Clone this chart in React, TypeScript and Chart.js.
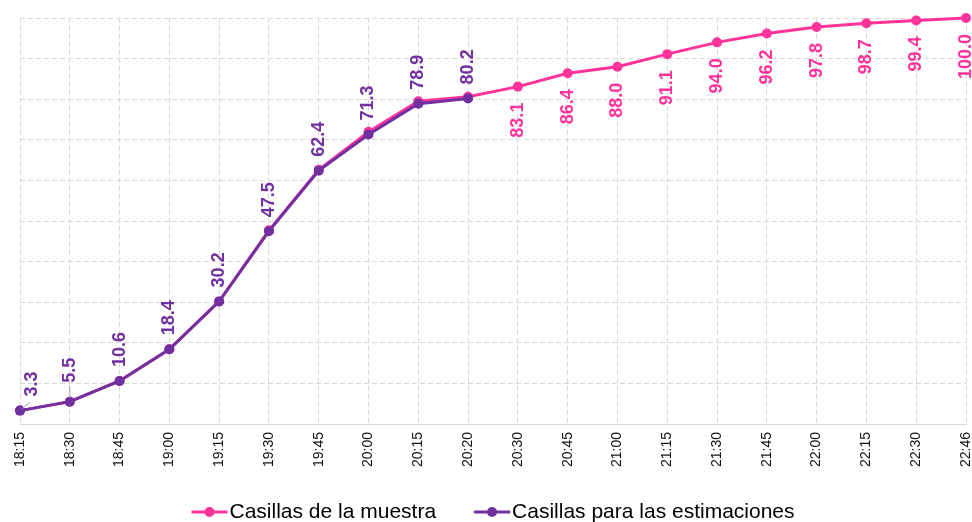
import React, { useEffect, useRef } from "react";
import { Chart, registerables } from "chart.js";

Chart.register(...registerables);

const categories = [
  "18:15", "18:30", "18:45", "19:00", "19:15", "19:30", "19:45", "20:00", "20:15", "20:20",
  "20:30", "20:45", "21:00", "21:15", "21:30", "21:45", "22:00", "22:15", "22:30", "22:46",
];
const muestra = [
  3.3, 5.5, 10.6, 18.4, 30.2, 47.7, 62.6, 72.0, 79.5, 80.6,
  83.1, 86.4, 88.0, 91.1, 94.0, 96.2, 97.8, 98.7, 99.4, 100.0,
];
const estimaciones = [3.3, 5.5, 10.6, 18.4, 30.2, 47.5, 62.4, 71.3, 78.9, 80.2];
const muestraLabelFrom = 10;
const seriesNames = ["Casillas de la muestra", "Casillas para las estimaciones"];
const yTicks = { min: 0, max: 100, step: 10 };

const PINK = "#FF3399";
const PURPLE = "#7030A0";
const GRID = "#d9d9d9";
const FONT = "'Liberation Sans', Arial, Helvetica, sans-serif";

const labelPlugin = {
  id: "pointLabels",
  afterDatasetsDraw(chart: any) {
    const ctx = chart.ctx as CanvasRenderingContext2D;
    ctx.save();
    ctx.font = `bold 18px ${FONT}`;
    ctx.textBaseline = "middle";

    // purple labels (above)
    const metaE = chart.getDatasetMeta(1);
    metaE.data.forEach((pt: any, i: number) => {
      const txt = estimaciones[i].toFixed(1);
      let x = pt.x;
      let start = pt.y - 14;
      if (i === 0) {
        x = pt.x + 12;
        start = pt.y - 14;
        ctx.strokeStyle = "#a6a6a6";
        ctx.lineWidth = 1;
        ctx.beginPath();
        ctx.moveTo(pt.x + 2, pt.y - 2);
        ctx.lineTo(pt.x + 10, pt.y - 8);
        ctx.stroke();
      } else if (i === 1) {
        start = pt.y - 19;
        ctx.strokeStyle = "#a6a6a6";
        ctx.lineWidth = 1;
        ctx.beginPath();
        ctx.moveTo(pt.x, pt.y - 4);
        ctx.lineTo(pt.x, pt.y - 16);
        ctx.stroke();
      }
      ctx.save();
      ctx.translate(x, start);
      ctx.rotate(-Math.PI / 2);
      ctx.fillStyle = PURPLE;
      ctx.textAlign = "left";
      ctx.fillText(txt, 0, 0);
      ctx.restore();
    });

    // pink labels (below)
    const metaM = chart.getDatasetMeta(0);
    metaM.data.forEach((pt: any, i: number) => {
      if (i < muestraLabelFrom) return;
      const txt = muestra[i].toFixed(1);
      ctx.save();
      ctx.translate(pt.x, pt.y + 16);
      ctx.rotate(-Math.PI / 2);
      ctx.fillStyle = PINK;
      ctx.textAlign = "right";
      ctx.fillText(txt, 0, 0);
      ctx.restore();
    });
    ctx.restore();
  },
};

const legendPlugin = {
  id: "customLegend",
  afterDraw(chart: any) {
    const ctx = chart.ctx as CanvasRenderingContext2D;
    ctx.save();
    ctx.font = `21px ${FONT}`;
    const colors = [PINK, PURPLE];
    const symW = 36;
    const gapSym = 2;
    const gapItems = 38;
    const widths = seriesNames.map((n) => ctx.measureText(n).width);
    const total = widths.reduce((a, w) => a + symW + gapSym + w, 0) + gapItems;
    const cx = (chart.chartArea.left + chart.chartArea.right) / 2;
    let x = cx - total / 2;
    const y = 512;
    seriesNames.forEach((name, i) => {
      ctx.strokeStyle = colors[i];
      ctx.lineWidth = 3;
      ctx.beginPath();
      ctx.moveTo(x, y);
      ctx.lineTo(x + symW, y);
      ctx.stroke();
      ctx.fillStyle = colors[i];
      ctx.beginPath();
      ctx.arc(x + symW / 2, y, 5, 0, Math.PI * 2);
      ctx.fill();
      ctx.fillStyle = "#000";
      ctx.textAlign = "left";
      ctx.textBaseline = "middle";
      ctx.fillText(name, x + symW + gapSym, y);
      x += symW + gapSym + widths[i] + gapItems;
    });
    ctx.restore();
  },
};

export default function App() {
  const ref = useRef<HTMLCanvasElement | null>(null);

  useEffect(() => {
    if (!ref.current) return;
    const chart = new Chart(ref.current, {
      type: "line",
      data: {
        labels: categories,
        datasets: [
          {
            label: seriesNames[0],
            data: muestra,
            borderColor: PINK,
            backgroundColor: PINK,
            borderWidth: 3,
            pointRadius: 5,
            pointHoverRadius: 5,
            pointBorderWidth: 0,
            tension: 0,
            clip: false as any,
            order: 2,
          },
          {
            label: seriesNames[1],
            data: estimaciones,
            borderColor: PURPLE,
            backgroundColor: PURPLE,
            borderWidth: 3,
            pointRadius: 5,
            pointHoverRadius: 5,
            pointBorderWidth: 0,
            tension: 0,
            clip: false as any,
            order: 1,
          },
        ],
      },
      options: {
        animation: false,
        responsive: true,
        maintainAspectRatio: false,
        layout: { padding: { left: 20, right: 6, top: 18, bottom: 0 } },
        plugins: {
          legend: { display: false },
          tooltip: { enabled: false },
        },
        scales: {
          x: {
            grid: {
              color: GRID,
              drawTicks: false,
            },
            border: { display: true, color: GRID, width: 1, dash: [5, 3] },
            ticks: {
              autoSkip: false,
              maxRotation: 90,
              minRotation: 90,
              padding: 8,
              color: "#111",
              font: { family: FONT, size: 14 },
            },
            afterFit(scale: any) {
              scale.height = 98;
              scale.paddingLeft = 0;
              scale.paddingRight = 0;
            },
          } as any,
          y: {
            min: yTicks.min,
            max: yTicks.max,
            ticks: { display: false, stepSize: yTicks.step },
            grid: { color: GRID, drawTicks: false },
            border: { display: false, dash: [5, 3] },
            afterFit(scale: any) {
              scale.width = 0;
              scale.paddingTop = 0;
              scale.paddingBottom = 0;
            },
          } as any,
        },
      },
      plugins: [labelPlugin, legendPlugin],
    });
    return () => chart.destroy();
  }, []);

  return (
    <div style={{ position: "absolute", left: 0, top: 0, width: 972, height: 522, background: "#fff" }}>
      <canvas ref={ref} />
    </div>
  );
}
